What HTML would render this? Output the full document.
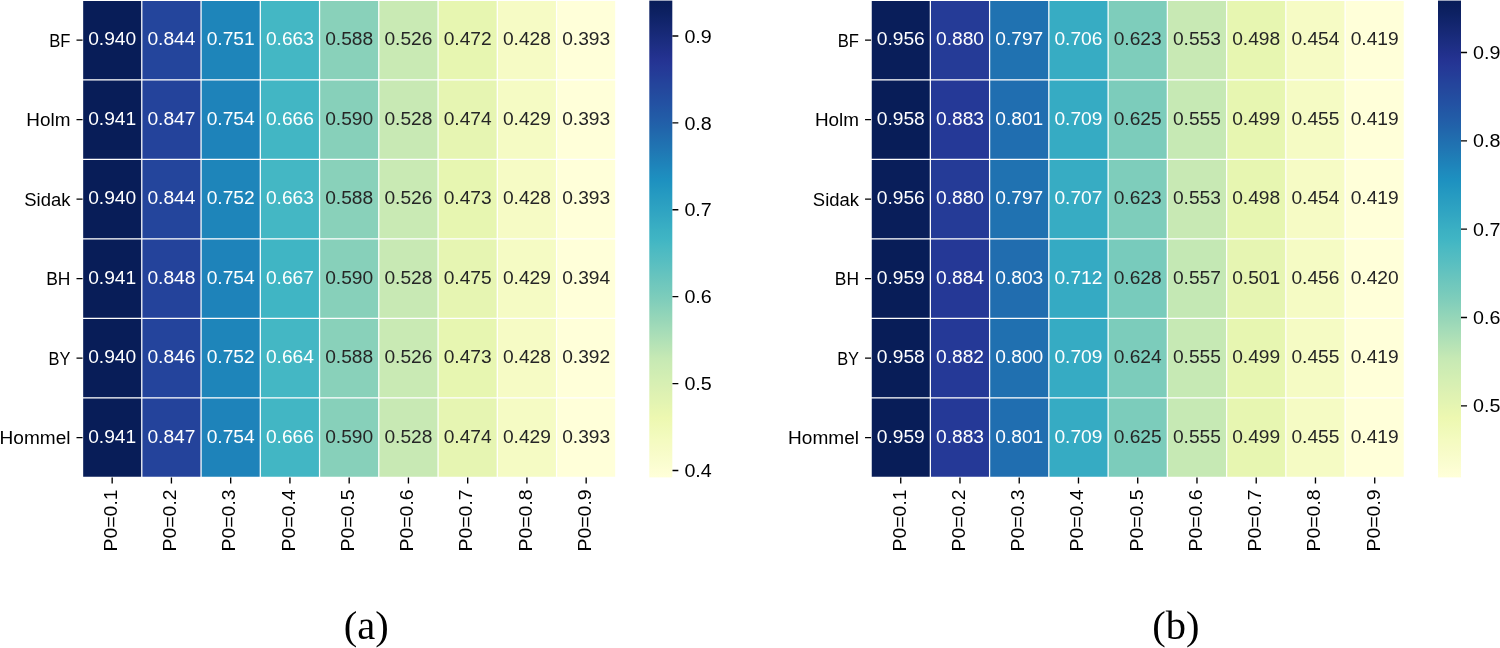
<!DOCTYPE html>
<html><head><meta charset="utf-8"><title>Heatmaps</title>
<style>
html,body{margin:0;padding:0;background:#fff;}
body{width:1500px;height:648px;overflow:hidden;}
svg{display:block;will-change:transform;}
svg text{font-family:"Liberation Sans",sans-serif;font-size:18.3px;}
svg text.cap{font-family:"Liberation Serif",serif;font-size:40.5px;}
</style></head><body>
<svg width="1500" height="648" viewBox="0 0 1500 648">
<defs><linearGradient id="cb" x1="0" y1="0" x2="0" y2="1"><stop offset="0.0000" stop-color="#081d58"/><stop offset="0.0156" stop-color="#0b1f5e"/><stop offset="0.0312" stop-color="#0e2265"/><stop offset="0.0469" stop-color="#12256d"/><stop offset="0.0625" stop-color="#162874"/><stop offset="0.0781" stop-color="#192b7c"/><stop offset="0.0938" stop-color="#1d2e83"/><stop offset="0.1094" stop-color="#21308b"/><stop offset="0.1250" stop-color="#243392"/><stop offset="0.1406" stop-color="#253896"/><stop offset="0.1562" stop-color="#243d98"/><stop offset="0.1719" stop-color="#24439b"/><stop offset="0.1875" stop-color="#24489d"/><stop offset="0.2031" stop-color="#234da0"/><stop offset="0.2188" stop-color="#2352a3"/><stop offset="0.2344" stop-color="#2258a5"/><stop offset="0.2500" stop-color="#225da8"/><stop offset="0.2656" stop-color="#2163aa"/><stop offset="0.2812" stop-color="#216aad"/><stop offset="0.2969" stop-color="#2070b0"/><stop offset="0.3125" stop-color="#2076b3"/><stop offset="0.3281" stop-color="#1f7db6"/><stop offset="0.3438" stop-color="#1e83ba"/><stop offset="0.3594" stop-color="#1e8abd"/><stop offset="0.3750" stop-color="#1d90c0"/><stop offset="0.3906" stop-color="#2195c0"/><stop offset="0.4062" stop-color="#259ac1"/><stop offset="0.4219" stop-color="#2a9ec1"/><stop offset="0.4375" stop-color="#2ea3c2"/><stop offset="0.4531" stop-color="#33a7c2"/><stop offset="0.4688" stop-color="#37acc3"/><stop offset="0.4844" stop-color="#3cb1c3"/><stop offset="0.5000" stop-color="#40b5c4"/><stop offset="0.5156" stop-color="#48b9c3"/><stop offset="0.5312" stop-color="#50bbc2"/><stop offset="0.5469" stop-color="#57bec1"/><stop offset="0.5625" stop-color="#5fc1c0"/><stop offset="0.5781" stop-color="#67c4be"/><stop offset="0.5938" stop-color="#6fc7bd"/><stop offset="0.6094" stop-color="#76cabc"/><stop offset="0.6250" stop-color="#7ecdbb"/><stop offset="0.6406" stop-color="#87d0ba"/><stop offset="0.6562" stop-color="#90d4b9"/><stop offset="0.6719" stop-color="#99d7b8"/><stop offset="0.6875" stop-color="#a2dbb8"/><stop offset="0.7031" stop-color="#abdeb7"/><stop offset="0.7188" stop-color="#b4e2b6"/><stop offset="0.7344" stop-color="#bde5b5"/><stop offset="0.7500" stop-color="#c6e9b4"/><stop offset="0.7656" stop-color="#cbebb4"/><stop offset="0.7812" stop-color="#d0edb3"/><stop offset="0.7969" stop-color="#d5efb3"/><stop offset="0.8125" stop-color="#daf0b3"/><stop offset="0.8281" stop-color="#dff2b2"/><stop offset="0.8438" stop-color="#e3f4b2"/><stop offset="0.8594" stop-color="#e8f6b1"/><stop offset="0.8750" stop-color="#edf8b1"/><stop offset="0.8906" stop-color="#eff9b6"/><stop offset="0.9062" stop-color="#f1fabb"/><stop offset="0.9219" stop-color="#f4fbc0"/><stop offset="0.9375" stop-color="#f6fbc5"/><stop offset="0.9531" stop-color="#f8fcca"/><stop offset="0.9688" stop-color="#fafdcf"/><stop offset="0.9844" stop-color="#fdfed4"/><stop offset="1.0000" stop-color="#ffffd9"/></linearGradient></defs>
<rect x="82.55" y="0.40" width="59.25" height="79.50" fill="#081d58"/>
<rect x="141.80" y="0.40" width="59.25" height="79.50" fill="#24459c"/>
<rect x="201.05" y="0.40" width="59.25" height="79.50" fill="#1e85ba"/>
<rect x="260.30" y="0.40" width="59.25" height="79.50" fill="#44b7c4"/>
<rect x="319.55" y="0.40" width="59.25" height="79.50" fill="#89d1ba"/>
<rect x="378.80" y="0.40" width="59.25" height="79.50" fill="#c9eab4"/>
<rect x="438.05" y="0.40" width="59.25" height="79.50" fill="#e7f6b1"/>
<rect x="497.30" y="0.40" width="59.25" height="79.50" fill="#f6fbc5"/>
<rect x="556.55" y="0.40" width="59.25" height="79.50" fill="#ffffd9"/>
<rect x="82.55" y="79.90" width="59.25" height="79.50" fill="#081d58"/>
<rect x="141.80" y="79.90" width="59.25" height="79.50" fill="#24439b"/>
<rect x="201.05" y="79.90" width="59.25" height="79.50" fill="#1e83ba"/>
<rect x="260.30" y="79.90" width="59.25" height="79.50" fill="#42b6c4"/>
<rect x="319.55" y="79.90" width="59.25" height="79.50" fill="#87d0ba"/>
<rect x="378.80" y="79.90" width="59.25" height="79.50" fill="#c8e9b4"/>
<rect x="438.05" y="79.90" width="59.25" height="79.50" fill="#e6f5b2"/>
<rect x="497.30" y="79.90" width="59.25" height="79.50" fill="#f5fbc4"/>
<rect x="556.55" y="79.90" width="59.25" height="79.50" fill="#ffffd9"/>
<rect x="82.55" y="159.40" width="59.25" height="79.50" fill="#081d58"/>
<rect x="141.80" y="159.40" width="59.25" height="79.50" fill="#24459c"/>
<rect x="201.05" y="159.40" width="59.25" height="79.50" fill="#1e85ba"/>
<rect x="260.30" y="159.40" width="59.25" height="79.50" fill="#44b7c4"/>
<rect x="319.55" y="159.40" width="59.25" height="79.50" fill="#89d1ba"/>
<rect x="378.80" y="159.40" width="59.25" height="79.50" fill="#c9eab4"/>
<rect x="438.05" y="159.40" width="59.25" height="79.50" fill="#e7f6b1"/>
<rect x="497.30" y="159.40" width="59.25" height="79.50" fill="#f6fbc5"/>
<rect x="556.55" y="159.40" width="59.25" height="79.50" fill="#ffffd9"/>
<rect x="82.55" y="238.90" width="59.25" height="79.50" fill="#081d58"/>
<rect x="141.80" y="238.90" width="59.25" height="79.50" fill="#24439b"/>
<rect x="201.05" y="238.90" width="59.25" height="79.50" fill="#1e83ba"/>
<rect x="260.30" y="238.90" width="59.25" height="79.50" fill="#40b5c4"/>
<rect x="319.55" y="238.90" width="59.25" height="79.50" fill="#87d0ba"/>
<rect x="378.80" y="238.90" width="59.25" height="79.50" fill="#c8e9b4"/>
<rect x="438.05" y="238.90" width="59.25" height="79.50" fill="#e6f5b2"/>
<rect x="497.30" y="238.90" width="59.25" height="79.50" fill="#f5fbc4"/>
<rect x="556.55" y="238.90" width="59.25" height="79.50" fill="#ffffd9"/>
<rect x="82.55" y="318.40" width="59.25" height="79.50" fill="#081d58"/>
<rect x="141.80" y="318.40" width="59.25" height="79.50" fill="#24449c"/>
<rect x="201.05" y="318.40" width="59.25" height="79.50" fill="#1e85ba"/>
<rect x="260.30" y="318.40" width="59.25" height="79.50" fill="#44b7c4"/>
<rect x="319.55" y="318.40" width="59.25" height="79.50" fill="#89d1ba"/>
<rect x="378.80" y="318.40" width="59.25" height="79.50" fill="#c9eab4"/>
<rect x="438.05" y="318.40" width="59.25" height="79.50" fill="#e7f6b1"/>
<rect x="497.30" y="318.40" width="59.25" height="79.50" fill="#f6fbc5"/>
<rect x="556.55" y="318.40" width="59.25" height="79.50" fill="#ffffd9"/>
<rect x="82.55" y="397.90" width="59.25" height="79.50" fill="#081d58"/>
<rect x="141.80" y="397.90" width="59.25" height="79.50" fill="#24439b"/>
<rect x="201.05" y="397.90" width="59.25" height="79.50" fill="#1e83ba"/>
<rect x="260.30" y="397.90" width="59.25" height="79.50" fill="#42b6c4"/>
<rect x="319.55" y="397.90" width="59.25" height="79.50" fill="#87d0ba"/>
<rect x="378.80" y="397.90" width="59.25" height="79.50" fill="#c8e9b4"/>
<rect x="438.05" y="397.90" width="59.25" height="79.50" fill="#e6f5b2"/>
<rect x="497.30" y="397.90" width="59.25" height="79.50" fill="#f5fbc4"/>
<rect x="556.55" y="397.90" width="59.25" height="79.50" fill="#ffffd9"/>
<path d="M82.55 -0.22V478.02M141.80 -0.22V478.02M201.05 -0.22V478.02M260.30 -0.22V478.02M319.55 -0.22V478.02M378.80 -0.22V478.02M438.05 -0.22V478.02M497.30 -0.22V478.02M556.55 -0.22V478.02M615.80 -0.22V478.02M81.92 0.40H616.42M81.92 79.90H616.42M81.92 159.40H616.42M81.92 238.90H616.42M81.92 318.40H616.42M81.92 397.90H616.42M81.92 477.40H616.42" stroke="#fff" stroke-width="1.25" fill="none"/>
<text x="112.17" y="45.10" fill="#ffffff" text-anchor="middle" textLength="48.01" lengthAdjust="spacingAndGlyphs">0.940</text>
<text x="171.43" y="45.10" fill="#ffffff" text-anchor="middle" textLength="48.01" lengthAdjust="spacingAndGlyphs">0.844</text>
<text x="230.68" y="45.10" fill="#ffffff" text-anchor="middle" textLength="48.01" lengthAdjust="spacingAndGlyphs">0.751</text>
<text x="289.93" y="45.10" fill="#ffffff" text-anchor="middle" textLength="48.01" lengthAdjust="spacingAndGlyphs">0.663</text>
<text x="349.18" y="45.10" fill="#262626" text-anchor="middle" textLength="48.01" lengthAdjust="spacingAndGlyphs">0.588</text>
<text x="408.43" y="45.10" fill="#262626" text-anchor="middle" textLength="48.01" lengthAdjust="spacingAndGlyphs">0.526</text>
<text x="467.68" y="45.10" fill="#262626" text-anchor="middle" textLength="48.01" lengthAdjust="spacingAndGlyphs">0.472</text>
<text x="526.92" y="45.10" fill="#262626" text-anchor="middle" textLength="48.01" lengthAdjust="spacingAndGlyphs">0.428</text>
<text x="586.17" y="45.10" fill="#262626" text-anchor="middle" textLength="48.01" lengthAdjust="spacingAndGlyphs">0.393</text>
<text x="112.17" y="124.60" fill="#ffffff" text-anchor="middle" textLength="48.01" lengthAdjust="spacingAndGlyphs">0.941</text>
<text x="171.43" y="124.60" fill="#ffffff" text-anchor="middle" textLength="48.01" lengthAdjust="spacingAndGlyphs">0.847</text>
<text x="230.68" y="124.60" fill="#ffffff" text-anchor="middle" textLength="48.01" lengthAdjust="spacingAndGlyphs">0.754</text>
<text x="289.93" y="124.60" fill="#ffffff" text-anchor="middle" textLength="48.01" lengthAdjust="spacingAndGlyphs">0.666</text>
<text x="349.18" y="124.60" fill="#262626" text-anchor="middle" textLength="48.01" lengthAdjust="spacingAndGlyphs">0.590</text>
<text x="408.43" y="124.60" fill="#262626" text-anchor="middle" textLength="48.01" lengthAdjust="spacingAndGlyphs">0.528</text>
<text x="467.68" y="124.60" fill="#262626" text-anchor="middle" textLength="48.01" lengthAdjust="spacingAndGlyphs">0.474</text>
<text x="526.92" y="124.60" fill="#262626" text-anchor="middle" textLength="48.01" lengthAdjust="spacingAndGlyphs">0.429</text>
<text x="586.17" y="124.60" fill="#262626" text-anchor="middle" textLength="48.01" lengthAdjust="spacingAndGlyphs">0.393</text>
<text x="112.17" y="204.10" fill="#ffffff" text-anchor="middle" textLength="48.01" lengthAdjust="spacingAndGlyphs">0.940</text>
<text x="171.43" y="204.10" fill="#ffffff" text-anchor="middle" textLength="48.01" lengthAdjust="spacingAndGlyphs">0.844</text>
<text x="230.68" y="204.10" fill="#ffffff" text-anchor="middle" textLength="48.01" lengthAdjust="spacingAndGlyphs">0.752</text>
<text x="289.93" y="204.10" fill="#ffffff" text-anchor="middle" textLength="48.01" lengthAdjust="spacingAndGlyphs">0.663</text>
<text x="349.18" y="204.10" fill="#262626" text-anchor="middle" textLength="48.01" lengthAdjust="spacingAndGlyphs">0.588</text>
<text x="408.43" y="204.10" fill="#262626" text-anchor="middle" textLength="48.01" lengthAdjust="spacingAndGlyphs">0.526</text>
<text x="467.68" y="204.10" fill="#262626" text-anchor="middle" textLength="48.01" lengthAdjust="spacingAndGlyphs">0.473</text>
<text x="526.92" y="204.10" fill="#262626" text-anchor="middle" textLength="48.01" lengthAdjust="spacingAndGlyphs">0.428</text>
<text x="586.17" y="204.10" fill="#262626" text-anchor="middle" textLength="48.01" lengthAdjust="spacingAndGlyphs">0.393</text>
<text x="112.17" y="283.60" fill="#ffffff" text-anchor="middle" textLength="48.01" lengthAdjust="spacingAndGlyphs">0.941</text>
<text x="171.43" y="283.60" fill="#ffffff" text-anchor="middle" textLength="48.01" lengthAdjust="spacingAndGlyphs">0.848</text>
<text x="230.68" y="283.60" fill="#ffffff" text-anchor="middle" textLength="48.01" lengthAdjust="spacingAndGlyphs">0.754</text>
<text x="289.93" y="283.60" fill="#ffffff" text-anchor="middle" textLength="48.01" lengthAdjust="spacingAndGlyphs">0.667</text>
<text x="349.18" y="283.60" fill="#262626" text-anchor="middle" textLength="48.01" lengthAdjust="spacingAndGlyphs">0.590</text>
<text x="408.43" y="283.60" fill="#262626" text-anchor="middle" textLength="48.01" lengthAdjust="spacingAndGlyphs">0.528</text>
<text x="467.68" y="283.60" fill="#262626" text-anchor="middle" textLength="48.01" lengthAdjust="spacingAndGlyphs">0.475</text>
<text x="526.92" y="283.60" fill="#262626" text-anchor="middle" textLength="48.01" lengthAdjust="spacingAndGlyphs">0.429</text>
<text x="586.17" y="283.60" fill="#262626" text-anchor="middle" textLength="48.01" lengthAdjust="spacingAndGlyphs">0.394</text>
<text x="112.17" y="363.10" fill="#ffffff" text-anchor="middle" textLength="48.01" lengthAdjust="spacingAndGlyphs">0.940</text>
<text x="171.43" y="363.10" fill="#ffffff" text-anchor="middle" textLength="48.01" lengthAdjust="spacingAndGlyphs">0.846</text>
<text x="230.68" y="363.10" fill="#ffffff" text-anchor="middle" textLength="48.01" lengthAdjust="spacingAndGlyphs">0.752</text>
<text x="289.93" y="363.10" fill="#ffffff" text-anchor="middle" textLength="48.01" lengthAdjust="spacingAndGlyphs">0.664</text>
<text x="349.18" y="363.10" fill="#262626" text-anchor="middle" textLength="48.01" lengthAdjust="spacingAndGlyphs">0.588</text>
<text x="408.43" y="363.10" fill="#262626" text-anchor="middle" textLength="48.01" lengthAdjust="spacingAndGlyphs">0.526</text>
<text x="467.68" y="363.10" fill="#262626" text-anchor="middle" textLength="48.01" lengthAdjust="spacingAndGlyphs">0.473</text>
<text x="526.92" y="363.10" fill="#262626" text-anchor="middle" textLength="48.01" lengthAdjust="spacingAndGlyphs">0.428</text>
<text x="586.17" y="363.10" fill="#262626" text-anchor="middle" textLength="48.01" lengthAdjust="spacingAndGlyphs">0.392</text>
<text x="112.17" y="442.60" fill="#ffffff" text-anchor="middle" textLength="48.01" lengthAdjust="spacingAndGlyphs">0.941</text>
<text x="171.43" y="442.60" fill="#ffffff" text-anchor="middle" textLength="48.01" lengthAdjust="spacingAndGlyphs">0.847</text>
<text x="230.68" y="442.60" fill="#ffffff" text-anchor="middle" textLength="48.01" lengthAdjust="spacingAndGlyphs">0.754</text>
<text x="289.93" y="442.60" fill="#ffffff" text-anchor="middle" textLength="48.01" lengthAdjust="spacingAndGlyphs">0.666</text>
<text x="349.18" y="442.60" fill="#262626" text-anchor="middle" textLength="48.01" lengthAdjust="spacingAndGlyphs">0.590</text>
<text x="408.43" y="442.60" fill="#262626" text-anchor="middle" textLength="48.01" lengthAdjust="spacingAndGlyphs">0.528</text>
<text x="467.68" y="442.60" fill="#262626" text-anchor="middle" textLength="48.01" lengthAdjust="spacingAndGlyphs">0.474</text>
<text x="526.92" y="442.60" fill="#262626" text-anchor="middle" textLength="48.01" lengthAdjust="spacingAndGlyphs">0.429</text>
<text x="586.17" y="442.60" fill="#262626" text-anchor="middle" textLength="48.01" lengthAdjust="spacingAndGlyphs">0.393</text>
<path d="M76.50 40.15H82.55M76.50 119.65H82.55M76.50 199.15H82.55M76.50 278.65H82.55M76.50 358.15H82.55M76.50 437.65H82.55M112.17 477.40V483.45M171.43 477.40V483.45M230.68 477.40V483.45M289.93 477.40V483.45M349.18 477.40V483.45M408.43 477.40V483.45M467.68 477.40V483.45M526.92 477.40V483.45M586.17 477.40V483.45M672.30 470.45H678.35M672.30 383.56H678.35M672.30 296.68H678.35M672.30 209.79H678.35M672.30 122.91H678.35M672.30 36.02H678.35" stroke="#000" stroke-width="1.35" fill="none"/>
<text x="70.45" y="46.75" fill="#000" text-anchor="end" textLength="21.26" lengthAdjust="spacingAndGlyphs">BF</text>
<text x="70.45" y="126.25" fill="#000" text-anchor="end" textLength="44.09" lengthAdjust="spacingAndGlyphs">Holm</text>
<text x="70.45" y="205.75" fill="#000" text-anchor="end" textLength="46.17" lengthAdjust="spacingAndGlyphs">Sidak</text>
<text x="70.45" y="285.25" fill="#000" text-anchor="end" textLength="24.24" lengthAdjust="spacingAndGlyphs">BH</text>
<text x="70.45" y="364.75" fill="#000" text-anchor="end" textLength="21.86" lengthAdjust="spacingAndGlyphs">BY</text>
<text x="70.45" y="444.25" fill="#000" text-anchor="end" textLength="70.88" lengthAdjust="spacingAndGlyphs">Hommel</text>
<text transform="translate(116.97 489.40) rotate(-90)" fill="#000" text-anchor="end" textLength="62.13" lengthAdjust="spacingAndGlyphs">P0=0.1</text>
<text transform="translate(176.23 489.40) rotate(-90)" fill="#000" text-anchor="end" textLength="62.13" lengthAdjust="spacingAndGlyphs">P0=0.2</text>
<text transform="translate(235.48 489.40) rotate(-90)" fill="#000" text-anchor="end" textLength="62.13" lengthAdjust="spacingAndGlyphs">P0=0.3</text>
<text transform="translate(294.73 489.40) rotate(-90)" fill="#000" text-anchor="end" textLength="62.13" lengthAdjust="spacingAndGlyphs">P0=0.4</text>
<text transform="translate(353.98 489.40) rotate(-90)" fill="#000" text-anchor="end" textLength="62.13" lengthAdjust="spacingAndGlyphs">P0=0.5</text>
<text transform="translate(413.23 489.40) rotate(-90)" fill="#000" text-anchor="end" textLength="62.13" lengthAdjust="spacingAndGlyphs">P0=0.6</text>
<text transform="translate(472.48 489.40) rotate(-90)" fill="#000" text-anchor="end" textLength="62.13" lengthAdjust="spacingAndGlyphs">P0=0.7</text>
<text transform="translate(531.72 489.40) rotate(-90)" fill="#000" text-anchor="end" textLength="62.13" lengthAdjust="spacingAndGlyphs">P0=0.8</text>
<text transform="translate(590.97 489.40) rotate(-90)" fill="#000" text-anchor="end" textLength="62.13" lengthAdjust="spacingAndGlyphs">P0=0.9</text>
<rect x="649.30" y="0.60" width="23.00" height="476.80" fill="url(#cb)"/>
<text x="684.40" y="477.05" fill="#000" textLength="27.35" lengthAdjust="spacingAndGlyphs">0.4</text>
<text x="684.40" y="390.16" fill="#000" textLength="27.35" lengthAdjust="spacingAndGlyphs">0.5</text>
<text x="684.40" y="303.28" fill="#000" textLength="27.35" lengthAdjust="spacingAndGlyphs">0.6</text>
<text x="684.40" y="216.39" fill="#000" textLength="27.35" lengthAdjust="spacingAndGlyphs">0.7</text>
<text x="684.40" y="129.51" fill="#000" textLength="27.35" lengthAdjust="spacingAndGlyphs">0.8</text>
<text x="684.40" y="42.62" fill="#000" textLength="27.35" lengthAdjust="spacingAndGlyphs">0.9</text>
<text class="cap" x="366.25" y="638.80" text-anchor="middle">(a)</text>
<rect x="871.10" y="0.40" width="59.25" height="79.50" fill="#091e5a"/>
<rect x="930.35" y="0.40" width="59.25" height="79.50" fill="#253b97"/>
<rect x="989.60" y="0.40" width="59.25" height="79.50" fill="#2072b1"/>
<rect x="1048.85" y="0.40" width="59.25" height="79.50" fill="#37acc3"/>
<rect x="1108.10" y="0.40" width="59.25" height="79.50" fill="#7ecdbb"/>
<rect x="1167.35" y="0.40" width="59.25" height="79.50" fill="#c8e9b4"/>
<rect x="1226.60" y="0.40" width="59.25" height="79.50" fill="#e7f6b1"/>
<rect x="1285.85" y="0.40" width="59.25" height="79.50" fill="#f6fbc5"/>
<rect x="1345.10" y="0.40" width="59.25" height="79.50" fill="#ffffd9"/>
<rect x="871.10" y="79.90" width="59.25" height="79.50" fill="#081d58"/>
<rect x="930.35" y="79.90" width="59.25" height="79.50" fill="#253997"/>
<rect x="989.60" y="79.90" width="59.25" height="79.50" fill="#206eb0"/>
<rect x="1048.85" y="79.90" width="59.25" height="79.50" fill="#36abc3"/>
<rect x="1108.10" y="79.90" width="59.25" height="79.50" fill="#7cccbb"/>
<rect x="1167.35" y="79.90" width="59.25" height="79.50" fill="#c6e9b4"/>
<rect x="1226.60" y="79.90" width="59.25" height="79.50" fill="#e7f6b1"/>
<rect x="1285.85" y="79.90" width="59.25" height="79.50" fill="#f5fbc4"/>
<rect x="1345.10" y="79.90" width="59.25" height="79.50" fill="#ffffd9"/>
<rect x="871.10" y="159.40" width="59.25" height="79.50" fill="#091e5a"/>
<rect x="930.35" y="159.40" width="59.25" height="79.50" fill="#253b97"/>
<rect x="989.60" y="159.40" width="59.25" height="79.50" fill="#2072b1"/>
<rect x="1048.85" y="159.40" width="59.25" height="79.50" fill="#37acc3"/>
<rect x="1108.10" y="159.40" width="59.25" height="79.50" fill="#7ecdbb"/>
<rect x="1167.35" y="159.40" width="59.25" height="79.50" fill="#c8e9b4"/>
<rect x="1226.60" y="159.40" width="59.25" height="79.50" fill="#e7f6b1"/>
<rect x="1285.85" y="159.40" width="59.25" height="79.50" fill="#f6fbc5"/>
<rect x="1345.10" y="159.40" width="59.25" height="79.50" fill="#ffffd9"/>
<rect x="871.10" y="238.90" width="59.25" height="79.50" fill="#081d58"/>
<rect x="930.35" y="238.90" width="59.25" height="79.50" fill="#253896"/>
<rect x="989.60" y="238.90" width="59.25" height="79.50" fill="#216daf"/>
<rect x="1048.85" y="238.90" width="59.25" height="79.50" fill="#35aac3"/>
<rect x="1108.10" y="238.90" width="59.25" height="79.50" fill="#78cbbc"/>
<rect x="1167.35" y="238.90" width="59.25" height="79.50" fill="#c4e8b4"/>
<rect x="1226.60" y="238.90" width="59.25" height="79.50" fill="#e6f5b2"/>
<rect x="1285.85" y="238.90" width="59.25" height="79.50" fill="#f5fbc4"/>
<rect x="1345.10" y="238.90" width="59.25" height="79.50" fill="#ffffd9"/>
<rect x="871.10" y="318.40" width="59.25" height="79.50" fill="#081d58"/>
<rect x="930.35" y="318.40" width="59.25" height="79.50" fill="#253997"/>
<rect x="989.60" y="318.40" width="59.25" height="79.50" fill="#2070b0"/>
<rect x="1048.85" y="318.40" width="59.25" height="79.50" fill="#36abc3"/>
<rect x="1108.10" y="318.40" width="59.25" height="79.50" fill="#7cccbb"/>
<rect x="1167.35" y="318.40" width="59.25" height="79.50" fill="#c6e9b4"/>
<rect x="1226.60" y="318.40" width="59.25" height="79.50" fill="#e7f6b1"/>
<rect x="1285.85" y="318.40" width="59.25" height="79.50" fill="#f5fbc4"/>
<rect x="1345.10" y="318.40" width="59.25" height="79.50" fill="#ffffd9"/>
<rect x="871.10" y="397.90" width="59.25" height="79.50" fill="#081d58"/>
<rect x="930.35" y="397.90" width="59.25" height="79.50" fill="#253997"/>
<rect x="989.60" y="397.90" width="59.25" height="79.50" fill="#206eb0"/>
<rect x="1048.85" y="397.90" width="59.25" height="79.50" fill="#36abc3"/>
<rect x="1108.10" y="397.90" width="59.25" height="79.50" fill="#7cccbb"/>
<rect x="1167.35" y="397.90" width="59.25" height="79.50" fill="#c6e9b4"/>
<rect x="1226.60" y="397.90" width="59.25" height="79.50" fill="#e7f6b1"/>
<rect x="1285.85" y="397.90" width="59.25" height="79.50" fill="#f5fbc4"/>
<rect x="1345.10" y="397.90" width="59.25" height="79.50" fill="#ffffd9"/>
<path d="M871.10 -0.22V478.02M930.35 -0.22V478.02M989.60 -0.22V478.02M1048.85 -0.22V478.02M1108.10 -0.22V478.02M1167.35 -0.22V478.02M1226.60 -0.22V478.02M1285.85 -0.22V478.02M1345.10 -0.22V478.02M1404.35 -0.22V478.02M870.48 0.40H1404.97M870.48 79.90H1404.97M870.48 159.40H1404.97M870.48 238.90H1404.97M870.48 318.40H1404.97M870.48 397.90H1404.97M870.48 477.40H1404.97" stroke="#fff" stroke-width="1.25" fill="none"/>
<text x="900.73" y="45.10" fill="#ffffff" text-anchor="middle" textLength="48.01" lengthAdjust="spacingAndGlyphs">0.956</text>
<text x="959.98" y="45.10" fill="#ffffff" text-anchor="middle" textLength="48.01" lengthAdjust="spacingAndGlyphs">0.880</text>
<text x="1019.23" y="45.10" fill="#ffffff" text-anchor="middle" textLength="48.01" lengthAdjust="spacingAndGlyphs">0.797</text>
<text x="1078.47" y="45.10" fill="#ffffff" text-anchor="middle" textLength="48.01" lengthAdjust="spacingAndGlyphs">0.706</text>
<text x="1137.72" y="45.10" fill="#262626" text-anchor="middle" textLength="48.01" lengthAdjust="spacingAndGlyphs">0.623</text>
<text x="1196.97" y="45.10" fill="#262626" text-anchor="middle" textLength="48.01" lengthAdjust="spacingAndGlyphs">0.553</text>
<text x="1256.22" y="45.10" fill="#262626" text-anchor="middle" textLength="48.01" lengthAdjust="spacingAndGlyphs">0.498</text>
<text x="1315.47" y="45.10" fill="#262626" text-anchor="middle" textLength="48.01" lengthAdjust="spacingAndGlyphs">0.454</text>
<text x="1374.72" y="45.10" fill="#262626" text-anchor="middle" textLength="48.01" lengthAdjust="spacingAndGlyphs">0.419</text>
<text x="900.73" y="124.60" fill="#ffffff" text-anchor="middle" textLength="48.01" lengthAdjust="spacingAndGlyphs">0.958</text>
<text x="959.98" y="124.60" fill="#ffffff" text-anchor="middle" textLength="48.01" lengthAdjust="spacingAndGlyphs">0.883</text>
<text x="1019.23" y="124.60" fill="#ffffff" text-anchor="middle" textLength="48.01" lengthAdjust="spacingAndGlyphs">0.801</text>
<text x="1078.47" y="124.60" fill="#ffffff" text-anchor="middle" textLength="48.01" lengthAdjust="spacingAndGlyphs">0.709</text>
<text x="1137.72" y="124.60" fill="#262626" text-anchor="middle" textLength="48.01" lengthAdjust="spacingAndGlyphs">0.625</text>
<text x="1196.97" y="124.60" fill="#262626" text-anchor="middle" textLength="48.01" lengthAdjust="spacingAndGlyphs">0.555</text>
<text x="1256.22" y="124.60" fill="#262626" text-anchor="middle" textLength="48.01" lengthAdjust="spacingAndGlyphs">0.499</text>
<text x="1315.47" y="124.60" fill="#262626" text-anchor="middle" textLength="48.01" lengthAdjust="spacingAndGlyphs">0.455</text>
<text x="1374.72" y="124.60" fill="#262626" text-anchor="middle" textLength="48.01" lengthAdjust="spacingAndGlyphs">0.419</text>
<text x="900.73" y="204.10" fill="#ffffff" text-anchor="middle" textLength="48.01" lengthAdjust="spacingAndGlyphs">0.956</text>
<text x="959.98" y="204.10" fill="#ffffff" text-anchor="middle" textLength="48.01" lengthAdjust="spacingAndGlyphs">0.880</text>
<text x="1019.23" y="204.10" fill="#ffffff" text-anchor="middle" textLength="48.01" lengthAdjust="spacingAndGlyphs">0.797</text>
<text x="1078.47" y="204.10" fill="#ffffff" text-anchor="middle" textLength="48.01" lengthAdjust="spacingAndGlyphs">0.707</text>
<text x="1137.72" y="204.10" fill="#262626" text-anchor="middle" textLength="48.01" lengthAdjust="spacingAndGlyphs">0.623</text>
<text x="1196.97" y="204.10" fill="#262626" text-anchor="middle" textLength="48.01" lengthAdjust="spacingAndGlyphs">0.553</text>
<text x="1256.22" y="204.10" fill="#262626" text-anchor="middle" textLength="48.01" lengthAdjust="spacingAndGlyphs">0.498</text>
<text x="1315.47" y="204.10" fill="#262626" text-anchor="middle" textLength="48.01" lengthAdjust="spacingAndGlyphs">0.454</text>
<text x="1374.72" y="204.10" fill="#262626" text-anchor="middle" textLength="48.01" lengthAdjust="spacingAndGlyphs">0.419</text>
<text x="900.73" y="283.60" fill="#ffffff" text-anchor="middle" textLength="48.01" lengthAdjust="spacingAndGlyphs">0.959</text>
<text x="959.98" y="283.60" fill="#ffffff" text-anchor="middle" textLength="48.01" lengthAdjust="spacingAndGlyphs">0.884</text>
<text x="1019.23" y="283.60" fill="#ffffff" text-anchor="middle" textLength="48.01" lengthAdjust="spacingAndGlyphs">0.803</text>
<text x="1078.47" y="283.60" fill="#ffffff" text-anchor="middle" textLength="48.01" lengthAdjust="spacingAndGlyphs">0.712</text>
<text x="1137.72" y="283.60" fill="#262626" text-anchor="middle" textLength="48.01" lengthAdjust="spacingAndGlyphs">0.628</text>
<text x="1196.97" y="283.60" fill="#262626" text-anchor="middle" textLength="48.01" lengthAdjust="spacingAndGlyphs">0.557</text>
<text x="1256.22" y="283.60" fill="#262626" text-anchor="middle" textLength="48.01" lengthAdjust="spacingAndGlyphs">0.501</text>
<text x="1315.47" y="283.60" fill="#262626" text-anchor="middle" textLength="48.01" lengthAdjust="spacingAndGlyphs">0.456</text>
<text x="1374.72" y="283.60" fill="#262626" text-anchor="middle" textLength="48.01" lengthAdjust="spacingAndGlyphs">0.420</text>
<text x="900.73" y="363.10" fill="#ffffff" text-anchor="middle" textLength="48.01" lengthAdjust="spacingAndGlyphs">0.958</text>
<text x="959.98" y="363.10" fill="#ffffff" text-anchor="middle" textLength="48.01" lengthAdjust="spacingAndGlyphs">0.882</text>
<text x="1019.23" y="363.10" fill="#ffffff" text-anchor="middle" textLength="48.01" lengthAdjust="spacingAndGlyphs">0.800</text>
<text x="1078.47" y="363.10" fill="#ffffff" text-anchor="middle" textLength="48.01" lengthAdjust="spacingAndGlyphs">0.709</text>
<text x="1137.72" y="363.10" fill="#262626" text-anchor="middle" textLength="48.01" lengthAdjust="spacingAndGlyphs">0.624</text>
<text x="1196.97" y="363.10" fill="#262626" text-anchor="middle" textLength="48.01" lengthAdjust="spacingAndGlyphs">0.555</text>
<text x="1256.22" y="363.10" fill="#262626" text-anchor="middle" textLength="48.01" lengthAdjust="spacingAndGlyphs">0.499</text>
<text x="1315.47" y="363.10" fill="#262626" text-anchor="middle" textLength="48.01" lengthAdjust="spacingAndGlyphs">0.455</text>
<text x="1374.72" y="363.10" fill="#262626" text-anchor="middle" textLength="48.01" lengthAdjust="spacingAndGlyphs">0.419</text>
<text x="900.73" y="442.60" fill="#ffffff" text-anchor="middle" textLength="48.01" lengthAdjust="spacingAndGlyphs">0.959</text>
<text x="959.98" y="442.60" fill="#ffffff" text-anchor="middle" textLength="48.01" lengthAdjust="spacingAndGlyphs">0.883</text>
<text x="1019.23" y="442.60" fill="#ffffff" text-anchor="middle" textLength="48.01" lengthAdjust="spacingAndGlyphs">0.801</text>
<text x="1078.47" y="442.60" fill="#ffffff" text-anchor="middle" textLength="48.01" lengthAdjust="spacingAndGlyphs">0.709</text>
<text x="1137.72" y="442.60" fill="#262626" text-anchor="middle" textLength="48.01" lengthAdjust="spacingAndGlyphs">0.625</text>
<text x="1196.97" y="442.60" fill="#262626" text-anchor="middle" textLength="48.01" lengthAdjust="spacingAndGlyphs">0.555</text>
<text x="1256.22" y="442.60" fill="#262626" text-anchor="middle" textLength="48.01" lengthAdjust="spacingAndGlyphs">0.499</text>
<text x="1315.47" y="442.60" fill="#262626" text-anchor="middle" textLength="48.01" lengthAdjust="spacingAndGlyphs">0.455</text>
<text x="1374.72" y="442.60" fill="#262626" text-anchor="middle" textLength="48.01" lengthAdjust="spacingAndGlyphs">0.419</text>
<path d="M865.05 40.15H871.10M865.05 119.65H871.10M865.05 199.15H871.10M865.05 278.65H871.10M865.05 358.15H871.10M865.05 437.65H871.10M900.73 477.40V483.45M959.98 477.40V483.45M1019.23 477.40V483.45M1078.47 477.40V483.45M1137.72 477.40V483.45M1196.97 477.40V483.45M1256.22 477.40V483.45M1315.47 477.40V483.45M1374.72 477.40V483.45M1461.00 405.85H1467.05M1461.00 317.52H1467.05M1461.00 229.18H1467.05M1461.00 140.85H1467.05M1461.00 52.52H1467.05" stroke="#000" stroke-width="1.35" fill="none"/>
<text x="859.00" y="46.75" fill="#000" text-anchor="end" textLength="21.26" lengthAdjust="spacingAndGlyphs">BF</text>
<text x="859.00" y="126.25" fill="#000" text-anchor="end" textLength="44.09" lengthAdjust="spacingAndGlyphs">Holm</text>
<text x="859.00" y="205.75" fill="#000" text-anchor="end" textLength="46.17" lengthAdjust="spacingAndGlyphs">Sidak</text>
<text x="859.00" y="285.25" fill="#000" text-anchor="end" textLength="24.24" lengthAdjust="spacingAndGlyphs">BH</text>
<text x="859.00" y="364.75" fill="#000" text-anchor="end" textLength="21.86" lengthAdjust="spacingAndGlyphs">BY</text>
<text x="859.00" y="444.25" fill="#000" text-anchor="end" textLength="70.88" lengthAdjust="spacingAndGlyphs">Hommel</text>
<text transform="translate(905.52 489.40) rotate(-90)" fill="#000" text-anchor="end" textLength="62.13" lengthAdjust="spacingAndGlyphs">P0=0.1</text>
<text transform="translate(964.77 489.40) rotate(-90)" fill="#000" text-anchor="end" textLength="62.13" lengthAdjust="spacingAndGlyphs">P0=0.2</text>
<text transform="translate(1024.03 489.40) rotate(-90)" fill="#000" text-anchor="end" textLength="62.13" lengthAdjust="spacingAndGlyphs">P0=0.3</text>
<text transform="translate(1083.27 489.40) rotate(-90)" fill="#000" text-anchor="end" textLength="62.13" lengthAdjust="spacingAndGlyphs">P0=0.4</text>
<text transform="translate(1142.52 489.40) rotate(-90)" fill="#000" text-anchor="end" textLength="62.13" lengthAdjust="spacingAndGlyphs">P0=0.5</text>
<text transform="translate(1201.77 489.40) rotate(-90)" fill="#000" text-anchor="end" textLength="62.13" lengthAdjust="spacingAndGlyphs">P0=0.6</text>
<text transform="translate(1261.02 489.40) rotate(-90)" fill="#000" text-anchor="end" textLength="62.13" lengthAdjust="spacingAndGlyphs">P0=0.7</text>
<text transform="translate(1320.27 489.40) rotate(-90)" fill="#000" text-anchor="end" textLength="62.13" lengthAdjust="spacingAndGlyphs">P0=0.8</text>
<text transform="translate(1379.52 489.40) rotate(-90)" fill="#000" text-anchor="end" textLength="62.13" lengthAdjust="spacingAndGlyphs">P0=0.9</text>
<rect x="1438.00" y="0.60" width="23.00" height="476.80" fill="url(#cb)"/>
<text x="1473.10" y="412.45" fill="#000" textLength="27.35" lengthAdjust="spacingAndGlyphs">0.5</text>
<text x="1473.10" y="324.12" fill="#000" textLength="27.35" lengthAdjust="spacingAndGlyphs">0.6</text>
<text x="1473.10" y="235.78" fill="#000" textLength="27.35" lengthAdjust="spacingAndGlyphs">0.7</text>
<text x="1473.10" y="147.45" fill="#000" textLength="27.35" lengthAdjust="spacingAndGlyphs">0.8</text>
<text x="1473.10" y="59.12" fill="#000" textLength="27.35" lengthAdjust="spacingAndGlyphs">0.9</text>
<text class="cap" x="1175.80" y="638.80" text-anchor="middle">(b)</text>
</svg>
</body></html>
